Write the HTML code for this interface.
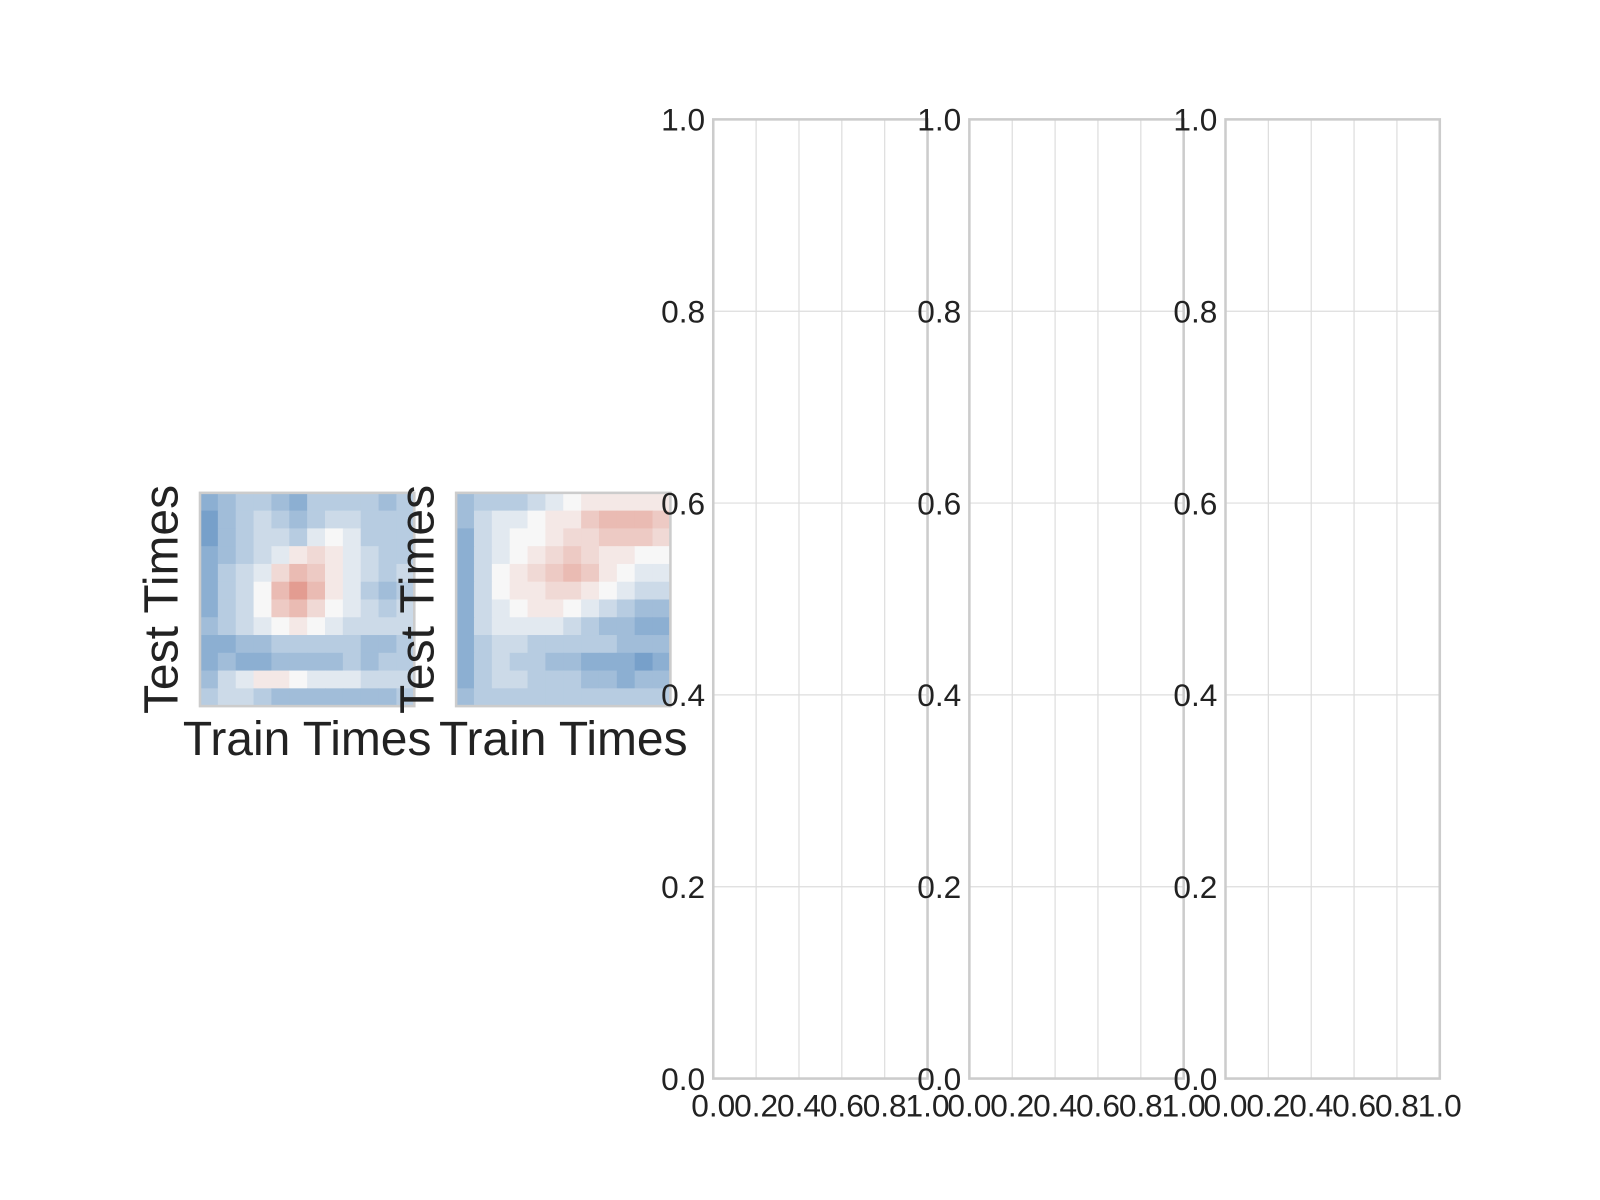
<!DOCTYPE html>
<html><head><meta charset="utf-8"><style>
html,body{margin:0;padding:0;background:#fff}
svg{display:block;font-family:"Liberation Sans",Arial,sans-serif}
</style></head><body>
<svg id="fig" width="1600" height="1200" viewBox="0 0 1600 1200" xmlns="http://www.w3.org/2000/svg"><g id="root" transform="scale(1.0204)"></g></svg>
<script>
const yTicks=[0,0.2,0.4,0.6,0.8,1.0];
const yTickLabels=["0.0","0.2","0.4","0.6","0.8","1.0"];
const xTicks=[0,0.2,0.4,0.6,0.8,1.0];
const xTickLabels=["0.0","0.2","0.4","0.6","0.8","1.0"];
const heat1=[
[-.5,-.4,-.3,-.3,-.4,-.5,-.3,-.3,-.3,-.3,-.4,-.3],
[-.6,-.4,-.3,-.2,-.3,-.4,-.3,-.2,-.2,-.3,-.3,-.3],
[-.6,-.4,-.3,-.2,-.2,-.3,-.1,0,-.1,-.3,-.3,-.3],
[-.5,-.4,-.3,-.2,-.1,.1,.2,.1,-.1,-.2,-.3,-.3],
[-.5,-.3,-.2,-.1,.2,.4,.3,.1,-.1,-.2,-.3,-.2],
[-.5,-.3,-.2,0,.4,.6,.4,.1,-.1,-.3,-.4,-.3],
[-.5,-.3,-.2,0,.3,.4,.2,0,-.1,-.2,-.3,-.2],
[-.4,-.3,-.2,-.1,0,.1,0,-.1,-.2,-.2,-.2,-.2],
[-.5,-.5,-.4,-.4,-.3,-.3,-.3,-.3,-.3,-.4,-.4,-.3],
[-.5,-.4,-.5,-.5,-.4,-.4,-.4,-.4,-.3,-.4,-.3,-.3],
[-.4,-.2,-.1,.1,.1,0,-.1,-.1,-.1,-.2,-.2,-.2],
[-.3,-.2,-.2,-.3,-.4,-.4,-.4,-.4,-.4,-.4,-.4,-.3]];
const heat2=[
[-.4,-.3,-.3,-.3,-.2,-.1,0,.1,.1,.1,.1,.1],
[-.4,-.2,-.1,-.1,0,.1,.1,.3,.4,.4,.4,.3],
[-.5,-.2,-.1,0,0,.1,.2,.2,.3,.3,.3,.2],
[-.5,-.2,-.1,0,.1,.2,.3,.2,.1,.1,0,0],
[-.5,-.2,0,.1,.2,.3,.4,.3,.1,0,-.1,-.1],
[-.5,-.2,0,.1,.1,.2,.2,.1,0,-.1,-.2,-.2],
[-.5,-.2,-.1,0,.1,.1,0,-.1,-.2,-.3,-.4,-.4],
[-.5,-.2,-.1,-.1,-.1,-.1,-.2,-.3,-.4,-.4,-.5,-.5],
[-.5,-.3,-.2,-.2,-.3,-.3,-.3,-.3,-.3,-.4,-.4,-.4],
[-.5,-.3,-.2,-.3,-.3,-.4,-.4,-.5,-.5,-.5,-.6,-.5],
[-.5,-.3,-.2,-.2,-.3,-.3,-.3,-.4,-.4,-.5,-.4,-.4],
[-.4,-.3,-.3,-.3,-.3,-.3,-.3,-.3,-.3,-.3,-.3,-.3]];

const svg=document.getElementById('root');
const NS='http://www.w3.org/2000/svg';
function mk(tag,attrs,parent){const e=document.createElementNS(NS,tag);for(const k in attrs)e.setAttribute(k,attrs[k]);(parent||svg).appendChild(e);return e;}
function color(v){
  const w=[247,247,247],b=[33,102,172],r=[214,96,77];
  const t=Math.min(1,Math.abs(v)*1.0),c=v<0?b:r;
  return 'rgb('+w.map((x,i)=>Math.round(x+(c[i]-x)*t)).join(',')+')';
}
function heatmap(data,x0,y0,w,h,name){
  const g=mk('g',{});
  
  
  const rows=data.length,cols=data[0].length;
  const cw=w/cols,ch=h/rows;
  data.forEach((row,i)=>row.forEach((v,j)=>{
    const c=mk('rect',{x:x0+j*cw,y:y0+i*ch,width:cw+0.5,height:ch+0.5,fill:color(v)},g);
    
    
  }));
  const f=mk('rect',{x:x0,y:y0,width:w,height:h,fill:'none',stroke:'#ccc','stroke-width':2.5},g);
  
  
  const yl=mk('text',{x:0,y:0,'font-size':47,fill:'#222','text-anchor':'middle',transform:'translate('+(x0-22)+','+(y0+h/2)+') rotate(-90)'},g);
  yl.textContent='Test Times';
  
  
  const xl=mk('text',{x:x0+w/2,y:y0+h+48,'font-size':47,fill:'#222','text-anchor':'middle'},g);
  xl.textContent='Train Times';
  
  
}
heatmap(heat1,196,483,210,209,'heatmap-1');
heatmap(heat2,447,483,210,209,'heatmap-2');

function axes(x0,name){
  const y0=117,w=210,h=940;
  const g=mk('g',{});
  
  
  const sx=v=>x0+v*w, sy=v=>y0+h-v*h;
  xTicks.forEach(t=>{
    if(t>0&&t<1){const l=mk('line',{x1:sx(t),x2:sx(t),y1:y0,y2:y0+h,stroke:'#ddd','stroke-width':1.2},g);
    
    }
  });
  yTicks.forEach(t=>{
    if(t>0&&t<1){const l=mk('line',{x1:x0,x2:x0+w,y1:sy(t),y2:sy(t),stroke:'#ddd','stroke-width':1.2},g);
    
    }
  });
  const f=mk('rect',{x:x0,y:y0,width:w,height:h,fill:'none',stroke:'#ccc','stroke-width':2.5},g);
  
  
  yTicks.forEach((t,i)=>{
    const tx=mk('text',{x:x0-8,y:sy(t)+11,'font-size':31,fill:'#222','text-anchor':'end'},g);
    tx.textContent=yTickLabels[i];
    
    
  });
  xTicks.forEach((t,i)=>{
    const tx=mk('text',{x:sx(t),y:y0+h+37,'font-size':31,fill:'#222','text-anchor':'middle'},g);
    tx.textContent=xTickLabels[i];
    
    
  });
}
axes(699,'empty-axes-1');
axes(950,'empty-axes-2');
axes(1201,'empty-axes-3');
</script>
</body></html>
